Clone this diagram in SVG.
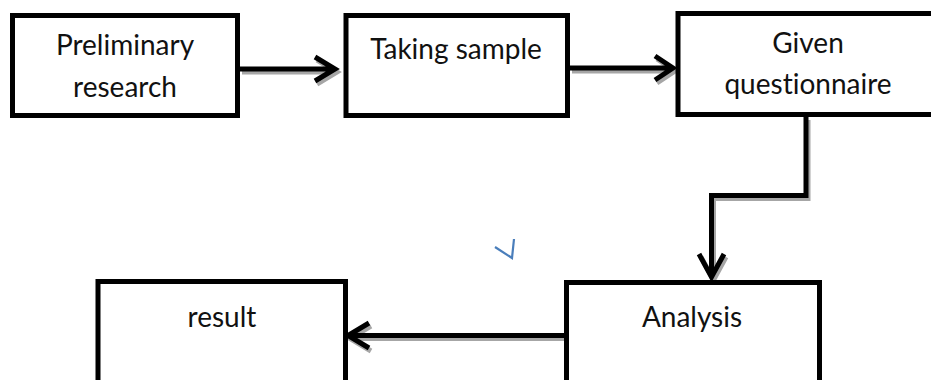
<svg xmlns="http://www.w3.org/2000/svg" width="931" height="380" viewBox="0 0 931 380">
<style>
.box{fill:#fff;stroke:#000;stroke-width:5}
.t{font-family:Lato,"Open Sans",sans-serif;font-size:28px;fill:#111;text-anchor:middle;font-variant-ligatures:none}
.ln{fill:none;stroke:#000;stroke-width:5;stroke-linejoin:miter}
.sh{fill:none;stroke:#a6a6a6;stroke-width:5;stroke-linejoin:miter}
</style>
<rect width="931" height="380" fill="#fff"/>
<g id="connectors">
<g transform="translate(2,3)">
<path class="sh" d="M240,69H333M315,57L335,69L315,81"/>
<path class="sh" d="M570,68H671M655,56L673,68L655,80"/>
<path class="sh" d="M806,117V195.5H711.5V276M699,254L711.5,277L724,254"/>
<path class="sh" d="M564,335.5H350M369,323L348,335.5L369,348"/>
</g>
<path class="ln" d="M240,69H333M315,57L335,69L315,81"/>
<path class="ln" d="M570,68H671M655,56L673,68L655,80"/>
<path class="ln" d="M806,117V195.5H711.5V276M699,254L711.5,277L724,254"/>
<path class="ln" d="M564,335.5H350M369,323L348,335.5L369,348"/>
</g>
<g id="prelim">
<rect class="box" x="12.5" y="15.5" width="225" height="100"/>
<text class="t" x="125" y="55">Preliminary</text>
<text class="t" x="125" y="97">research</text>
</g>
<g id="sample">
<rect class="box" x="346" y="15.5" width="221.5" height="100"/>
<text class="t" x="456" y="59">Taking sample</text>
</g>
<g id="questionnaire">
<rect class="box" x="678" y="13.5" width="270" height="101"/>
<text class="t" x="808" y="53">Given</text>
<text class="t" x="808" y="94">questionnaire</text>
</g>
<g id="analysis">
<rect class="box" x="566.5" y="282.5" width="253" height="120"/>
<text class="t" x="692" y="327">Analysis</text>
</g>
<g id="result">
<rect class="box" x="98" y="281.5" width="247.5" height="120"/>
<text class="t" x="222" y="327">result</text>
</g>
<polyline points="495,247 512,258 514,239" fill="none" stroke="#4a7ebb" stroke-width="2.2"/>
</svg>
